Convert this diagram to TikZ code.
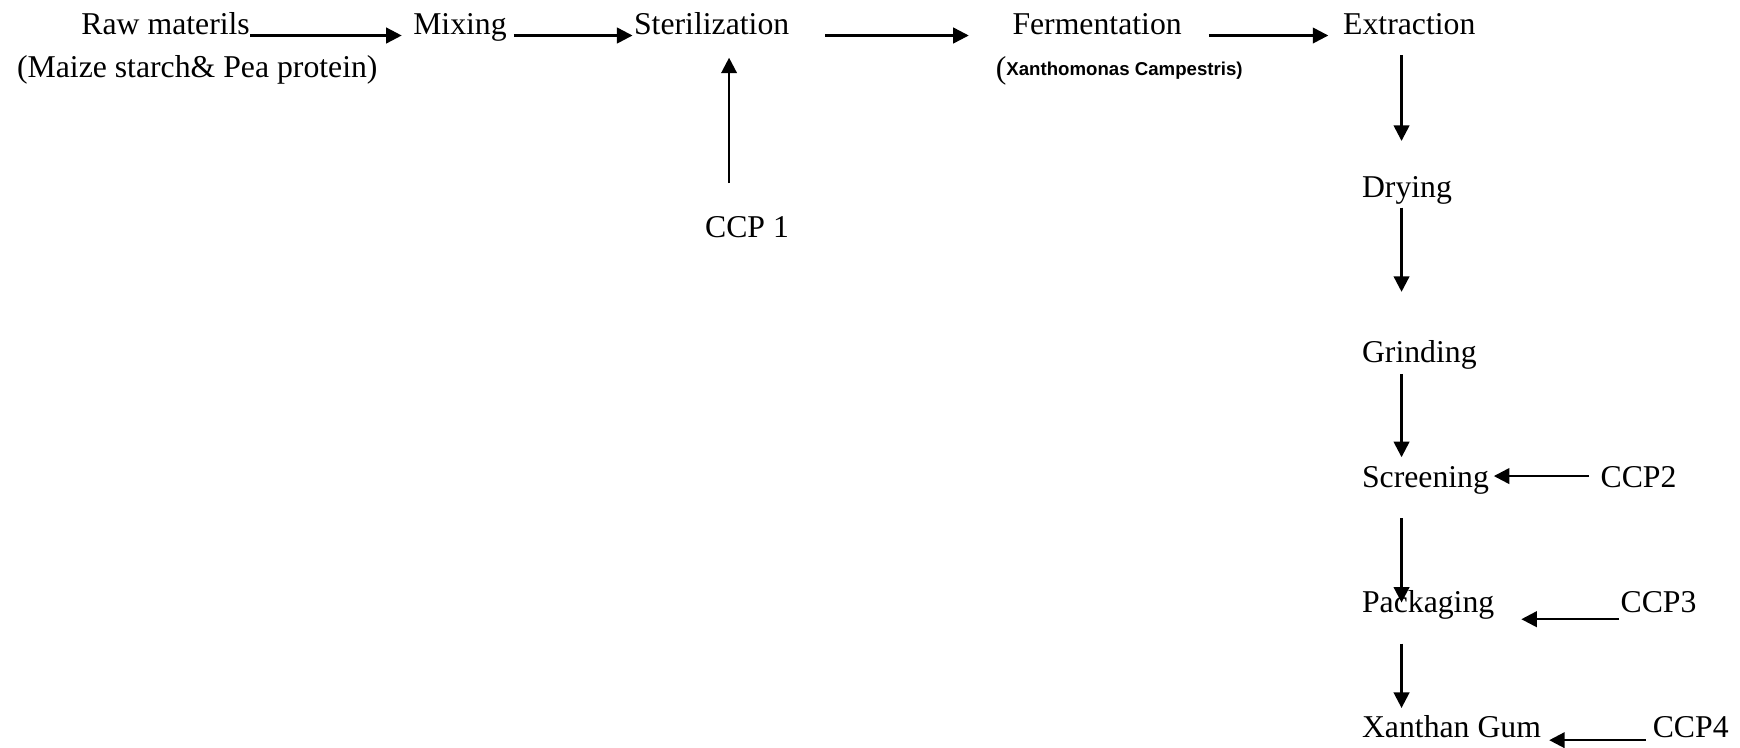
\documentclass[tikz,border=0pt]{standalone}
\usepackage{fontspec}
\setmainfont{Liberation Serif}
\newfontfamily\sansx{Liberation Sans}
\usetikzlibrary{arrows.meta,calc}
\begin{document}
\begin{tikzpicture}[x=0.5pt,y=-0.5pt,
  lbl/.style={inner sep=0pt,anchor=base west,font=\fontsize{14.3}{17}\selectfont},
  arr/.style={line width=1.1pt,-{Triangle[length=7pt,width=7pt]}}]
\useasboundingbox (0,0) rectangle (1568,674);
\node[lbl] (raw) at (73,31) {Raw materils};
\node[lbl] (maize) at (15,70) {(Maize starch\& Pea protein)};
\node[lbl] (mix) at (372,31) {Mixing};
\node[lbl] (ster) at (571,31) {Sterilization};
\node[lbl] (ferm) at (912,31) {Fermentation};
\node[lbl] (xan) at (897,71) {(\raisebox{1.5pt}{\sansx\bfseries\fontsize{8.4}{10}\selectfont Xanthomonas Campestris)}};
\node[lbl] (extr) at (1210,31) {Extraction};
\coordinate (col) at (1263,0);
\node[lbl] (dry) at (1227,178) {Drying};
\node[lbl] (grind) at (1227,327) {Grinding};
\node[lbl] (screen) at (1227,439) {Screening};
\node[lbl] (pack) at (1227,552) {Packaging};
\node[lbl] (gum) at (1227,665) {Xanthan Gum};
\node[lbl] (ccp1) at (635,214) {CCP 1};
\node[lbl] (ccp2) at (1442,439) {CCP2};
\node[lbl] (ccp3) at (1460,552) {CCP3};
\node[lbl] (ccp4) at (1489,665) {CCP4};
% top row
\draw[arr] ($(raw.base east)+(0,1)$) -- ($(mix.base west)+(-10,1)$);
\draw[arr] ($(mix.base east)+(6,1)$) -- ($(ster.base west)+(-1,1)$);
\draw[arr] ($(ster.base east)+(32,1)$) -- ($(ferm.base west)+(-39,1)$);
\draw[arr] ($(ferm.base east)+(24,1)$) -- ($(extr.base west)+(-13,1)$);
% CCP1
\draw[arr] ($(ccp1.base west)+(22,-49)$) -- ($(ster.base west)+(86,21)$);
% column
\draw[arr] ($(col |- extr.base)+(0,19)$) -- ($(col |- dry.base)+(0,-51)$);
\draw[arr] ($(col |- dry.base)+(0,9)$) -- ($(col |- grind.base)+(0,-64)$);
\draw[arr] ($(col |- grind.base)+(0,10)$) -- ($(col |- screen.base)+(0,-27)$);
\draw[arr] ($(col |- screen.base)+(0,28)$) -- ($(col |- pack.base)+(0,-9)$);
\draw[arr] ($(col |- pack.base)+(0,28)$) -- ($(col |- gum.base)+(0,-27)$);
% CCP side arrows
\draw[arr] ($(ccp2.base west)+(-10,-10)$) -- ($(screen.base east)+(4,-10)$);
\draw[arr] ($(ccp3.base west)+(-1,6)$) -- ($(pack.base east)+(24,6)$);
\draw[arr] ($(ccp4.base west)+(-6,2)$) -- ($(gum.base east)+(7,2)$);
\end{tikzpicture}
\end{document}
